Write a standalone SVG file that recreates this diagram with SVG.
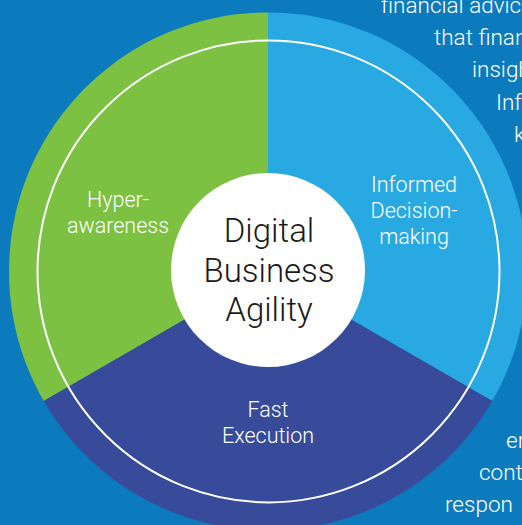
<svg xmlns="http://www.w3.org/2000/svg" width="522" height="525" viewBox="0 0 522 525">
<style>
.lt{font-family:Roboto,"Liberation Sans",sans-serif;font-weight:300;fill:#ffffff;}
.seg{font-size:21.5px;text-anchor:middle;}
.side{font-size:22.5px;}
.ctr{font-family:Roboto,"Liberation Sans",sans-serif;font-weight:300;font-size:33px;fill:#1a1a1a;text-anchor:middle;}
</style>
<rect width="522" height="525" fill="#0b7bbd"/>
<g id="side-text">
<text class="lt side" x="381" y="13">financial advic</text>
<text class="lt side" x="434" y="45">that finan</text>
<text class="lt side" x="472" y="77">insigh</text>
<text class="lt side" x="496" y="110">Info</text>
<text class="lt side" x="514" y="142">k</text>
<text class="lt side" x="506" y="448">er</text>
<text class="lt side" x="479" y="480">cont</text>
<text class="lt side" x="445" y="512">respon</text>
</g>
<g id="hyperawareness">
<path d="M268,271.4 L268,12.4 A259,259 0 0 0 43.7,400.9 Z" fill="#7cc142"/>
</g>
<g id="informed-decision-making">
<path d="M268,271.4 L268,12.4 A259,259 0 0 1 492.3,400.9 Z" fill="#29a9e1"/>
</g>
<g id="fast-execution">
<path d="M268,271.4 L43.7,400.9 A259,259 0 0 0 492.3,400.9 Z" fill="#384b9b"/>
</g>
<circle cx="268.5" cy="271.4" r="231" fill="none" stroke="#ffffff" stroke-width="2"/>
<g id="labels">
<text class="lt seg" x="118" y="207">Hyper-</text>
<text class="lt seg" x="118" y="233">awareness</text>
<text class="lt seg" x="414" y="192">Informed</text>
<text class="lt seg" x="414" y="218">Decision-</text>
<text class="lt seg" x="414" y="244">making</text>
<text class="lt seg" x="268" y="417">Fast</text>
<text class="lt seg" x="268" y="443">Execution</text>
</g>
<g id="digital-business-agility">
<circle cx="268" cy="270" r="97" fill="#ffffff"/>
<text class="ctr" x="269" y="242">Digital</text>
<text class="ctr" x="269" y="282">Business</text>
<text class="ctr" x="269" y="321">Agility</text>
</g>
</svg>
